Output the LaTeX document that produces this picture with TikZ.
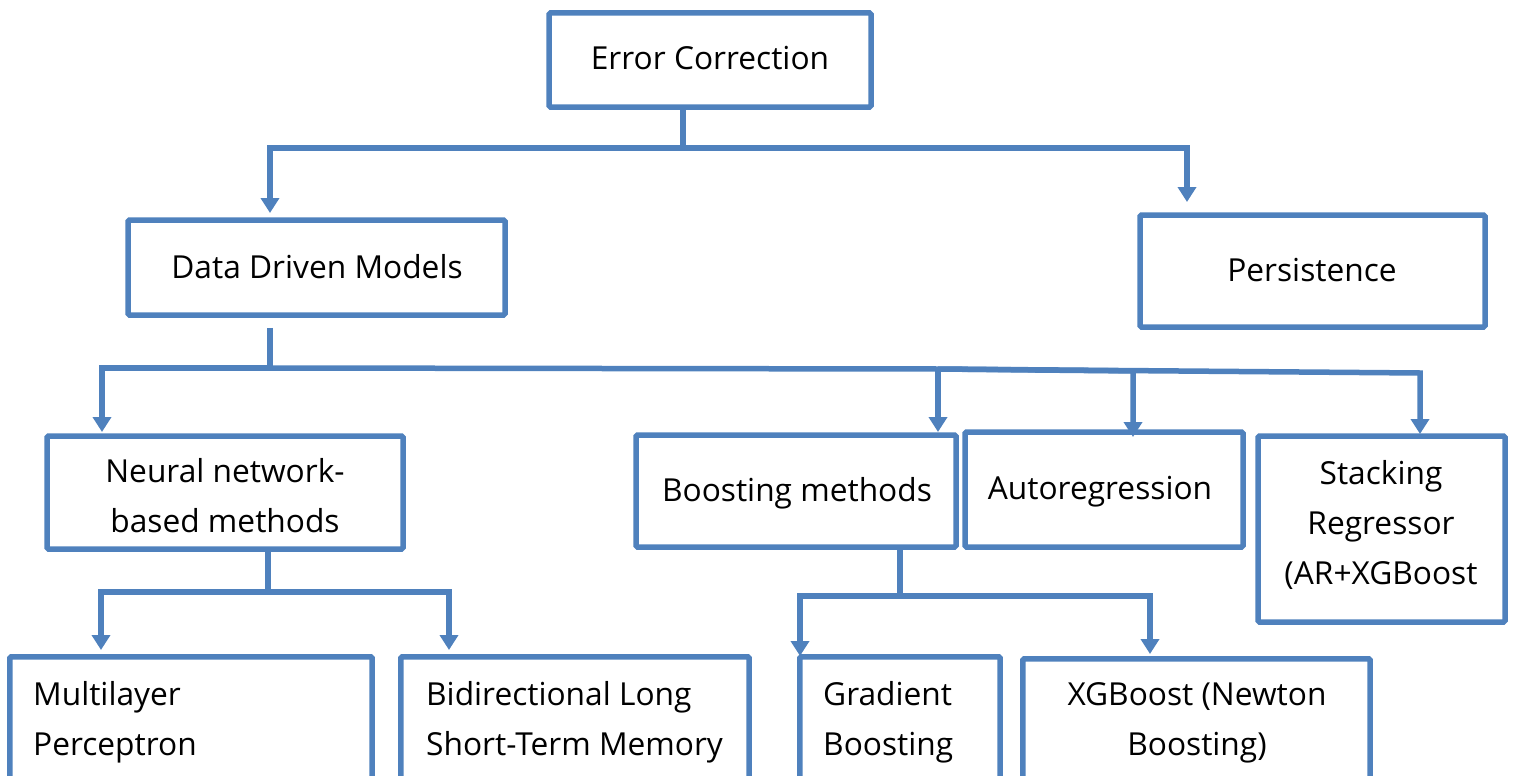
\documentclass[tikz,border=0pt]{standalone}
\usepackage{fontspec}
\setmainfont{Open Sans}
\usetikzlibrary{arrows.meta}
\definecolor{boxblue}{HTML}{4F81BD}
\begin{document}
\begin{tikzpicture}[x=1pt,y=-1pt,
  box/.style={draw=boxblue, line width=5.5pt, rounded corners=1.5pt, inner sep=0pt},
  openbox/.style={inner sep=0pt},
  boxline/.style={draw=boxblue, line width=5.5pt, rounded corners=1.5pt},
  txt/.style={font=\fontsize{31.7}{50}\selectfont, inner sep=0pt, text=black},
  link/.style={draw=boxblue, line width=5.5pt, line join=miter},
  arr/.style={link, -{Triangle[width=18pt,length=15pt]}}]
\useasboundingbox (0,0) rectangle (1513,776);
% boxes
\node[box, minimum width=322pt, minimum height=94pt] (ec) at (710,60) {};
\node[box, minimum width=377pt, minimum height=95pt] (ddm) at (316.5,267.5) {};
\node[box, minimum width=345pt, minimum height=112pt] (per) at (1312.5,271) {};
\node[box, minimum width=356pt, minimum height=113pt] (nn) at (225,492.5) {};
\node[box, minimum width=320pt, minimum height=112pt] (bm) at (796,491) {};
\node[box, minimum width=278pt, minimum height=115pt] (ar) at (1104,489.5) {};
\node[box, minimum width=247pt, minimum height=186pt] (sr) at (1381.5,529) {};
\node[openbox, minimum width=362pt, minimum height=143pt] (mlp) at (191,728.5) {};
\node[openbox, minimum width=348pt, minimum height=143pt] (bil) at (575,728.5) {};
\node[openbox, minimum width=200pt, minimum height=143pt] (gb) at (900,728.5) {};
\node[openbox, minimum width=347pt, minimum height=141pt] (xgb) at (1196.5,729.5) {};
\foreach \n in {mlp,bil,gb,xgb}{
  \draw[boxline] (\n.south west) -- (\n.north west) -- (\n.north east) -- (\n.south east);
}
% texts (base anchor = baseline of the last line)
\node[txt, anchor=base] (ect) at (710,70) {Error Correction};
\node[txt, anchor=base] (ddmt) at (317,278) {Data Driven Models};
\node[txt, anchor=base] (pert) at (1312,281) {Persistence};
\node[txt, anchor=base, align=center] (nnt) at (225,532) {Neural network-\\based methods};
\node[txt, anchor=base] (bmt) at (797,501) {Boosting methods};
\node[txt, anchor=base] (art) at (1100,499) {Autoregression};
\node[txt, anchor=base, align=center] (srt) at (1381,584) {Stacking\\Regressor\\(AR+XGBoost};
\node[txt, anchor=base west, align=left] (mlpt) at (33,755) {Multilayer\\Perceptron};
\node[txt, anchor=base west, align=left] (bilt) at (426,755) {Bidirectional Long\\Short-Term Memory};
\node[txt, anchor=base west, align=left] (gbt) at (823,755) {Gradient\\Boosting};
\node[txt, anchor=base, align=center] (xgbt) at (1197,755) {XGBoost (Newton\\Boosting)};
% junctions and tips
\coordinate (j1) at (683,148);
\coordinate (t1a) at (270,213);
\coordinate (t1b) at (1187,202);
\coordinate (j2) at (270,368);
\coordinate (j2b) at (938,369);
\coordinate (t2a) at (102,432);
\coordinate (t2b) at (938,432);
\coordinate (t2c) at (1133,437);
\coordinate (t2d) at (1420,434);
\coordinate (j3) at (268,592);
\coordinate (t3a) at (101,650);
\coordinate (t3b) at (449,650);
\coordinate (j4) at (900,596);
\coordinate (t4a) at (800,656);
\coordinate (t4b) at (1150,654);
% connectors
\draw[link] (ec.south -| j1) -- (j1);
\draw[arr] (j1) -| (t1a);
\draw[arr] (j1) -| (t1b);
\draw[link] ([yshift=-10pt]ddm.south -| j2) -- (j2);
\draw[arr] (j2) -| (t2a);
\draw[link] (j2) -- (j2b);
\draw[arr] (j2b) -- (t2b);
\draw[arr] (j2b) -- (1133,371) -- (t2c);
\draw[arr] (j2b) -- (1420,373) -- (t2d);
\draw[link] (nn.south -| j3) -- (j3);
\draw[arr] (j3) -| (t3a);
\draw[arr] (j3) -| (t3b);
\draw[link] (bm.south -| j4) -- (j4);
\draw[arr] (j4) -| (t4a);
\draw[arr] (j4) -| (t4b);
\end{tikzpicture}
\end{document}
